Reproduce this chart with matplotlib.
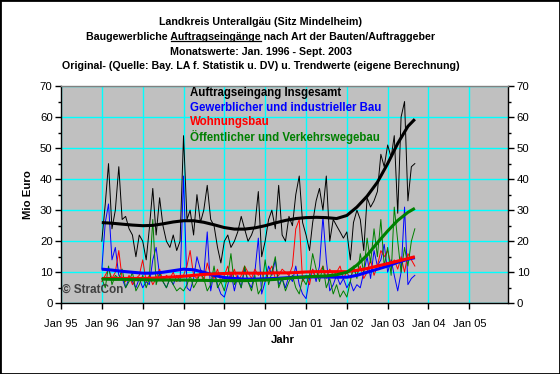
import numpy as np
import pandas as pd
import matplotlib
matplotlib.use("Agg")
import matplotlib.pyplot as plt
import matplotlib.dates as mdates
from matplotlib.lines import Line2D
from matplotlib.patches import Rectangle
from matplotlib.ticker import MultipleLocator

plt.rcParams['font.family'] = ['Liberation Sans', 'DejaVu Sans']

# Monatswerte Jan 1996 - Sep 2003 (Mio Euro)
months = pd.date_range('1996-01-01', periods=93, freq='MS')

total = [20, 32, 45, 24, 30, 44, 27, 28, 24, 22, 15, 22,
         20, 14, 24, 37, 22, 34, 25, 20, 18, 22, 17, 20,
         54, 27, 30, 22, 35, 26, 30, 38, 27, 25, 18, 13,
         20, 22, 18, 20, 23, 28, 24, 20, 22, 25, 36, 15,
         20, 27, 30, 24, 38, 22, 20, 28, 25, 35, 41, 26,
         22, 17, 26, 33, 37, 30, 41, 20, 27, 25, 23, 21,
         23, 14, 26, 30, 27, 17, 34, 31, 33, 36, 48, 44,
         51, 47, 54, 29, 60, 65, 33, 44, 45]

gewerbe = [11, 26, 32, 14, 18, 9, 8, 5, 8, 7, 5, 8,
           5, 7, 6, 14, 18, 9, 7, 5, 8, 6, 9, 7,
           41, 5, 4, 8, 15, 11, 9, 23, 4, 10, 6, 3,
           2, 6, 10, 4, 9, 5, 11, 7, 5, 10, 21, 3,
           7, 12, 9, 14, 6, 8, 5, 9, 7, 12, 6, 3,
           1.5, 8, 11, 7, 12, 28, 14, 4, 6, 9, 6, 8,
           5, 7, 4, 6, 5, 10, 15, 8, 17, 12, 14, 19,
           10, 14, 9, 4, 10, 31, 6, 8, 9]

wohnung = [7, 9, 11, 8, 10, 17, 8, 7, 9, 6, 8, 9,
           14, 7, 9, 6, 8, 11, 7, 9, 8, 10, 7, 9,
           9, 12, 17, 9, 8, 10, 7, 13, 9, 8, 11, 7,
           9, 12, 8, 11, 7, 9, 12, 10, 8, 11, 9, 10,
           7, 10, 12, 8, 9, 11, 10, 9, 12, 24, 27, 7,
           9, 6, 11, 8, 10, 12, 8, 11, 9, 10, 12, 8,
           10, 8, 11, 9, 12, 8, 10, 14, 9, 12, 17, 15,
           17, 12, 14, 11, 15, 10, 16, 14, 12]

oeffentlich = [8, 5, 12, 6, 9, 8, 11, 5, 7, 10, 4, 6,
               9, 5, 8, 27, 6, 10, 7, 5, 8, 6, 4, 5,
               4, 6, 9, 5, 7, 10, 8, 4, 6, 12, 5, 7,
               4, 9, 16, 6, 8, 5, 12, 7, 4, 9, 3, 5,
               14, 6, 10, 15, 5, 8, 4, 7, 9, 5, 3, 8,
               6, 9, 16, 11, 7, 12, 5, 8, 3, 6, 2, 4,
               2, 7, 12, 8, 16, 10, 21, 13, 24, 15, 27, 12,
               18, 9, 31, 20, 10, 18, 12, 20, 24]

trend_idx = [0, 3, 6, 9, 12, 15, 18, 21, 24, 27, 30, 33, 36, 39, 42, 45,
             48, 51, 54, 57, 60, 63, 66, 69, 72, 75, 78, 81, 84, 87, 90, 92]
trend_total = [26.0, 25.8, 25.5, 25.2, 25.0, 25.1, 25.6, 26.2, 26.6, 26.6, 26.1, 25.3,
               24.4, 23.9, 23.9, 24.3, 25.0, 25.9, 26.7, 27.3, 27.6, 27.7, 27.6, 27.3,
               28.3, 31.0, 34.5, 39.0, 45.0, 51.5, 57.0, 59.3]
trend_gewerbe = [11.0, 10.7, 10.3, 10.0, 9.7, 9.7, 10.0, 10.5, 11.0, 10.8, 10.0, 9.0,
                 8.3, 8.0, 7.8, 7.8, 7.9, 8.0, 8.2, 8.4, 8.5, 8.5, 8.5, 8.4,
                 8.4, 9.0, 10.0, 11.0, 12.0, 13.2, 14.2, 14.7]
trend_wohnung = [8.0, 8.0, 8.0, 8.0, 8.0, 8.1, 8.3, 8.5, 8.7, 9.0, 9.3, 9.5,
                 9.6, 9.7, 9.7, 9.7, 9.7, 9.8, 9.8, 9.9, 10.1, 10.2, 10.2, 10.2,
                 10.2, 10.6, 11.2, 12.0, 12.8, 13.6, 14.4, 15.0]
trend_oeffentlich = [7.8, 7.7, 7.7, 7.6, 7.6, 7.5, 7.5, 7.5, 7.5, 7.4, 7.4, 7.3,
                     7.3, 7.3, 7.3, 7.4, 7.5, 7.7, 8.0, 8.3, 8.5, 8.7, 8.8, 9.2,
                     10.0, 12.3, 15.5, 19.5, 23.3, 26.7, 29.3, 30.6]

labels = ['Auftragseingang Insgesamt', 'Gewerblicher und industrieller Bau',
          'Wohnungsbau', 'Öffentlicher und Verkehrswegebau']
colors = ['black', '#0000ff', '#ff0000', '#008000']

W, H = 560, 374
fig = plt.figure(figsize=(W / 100, H / 100), dpi=100)
fig.patch.set_facecolor('white')

def fx(px):
    return px / W

def fy(py):
    return 1 - py / H

ax = fig.add_axes([fx(61), fy(303.3), fx(508.3 - 61), (303.3 - 86) / H])
ax.set_facecolor('#c0c0c0')

raw = [total, gewerbe, wohnung, oeffentlich]
trends = [trend_total, trend_gewerbe, trend_wohnung, trend_oeffentlich]
tdates = months[trend_idx]
for series, c in zip(raw, colors):
    ax.plot(months, series, color=c, lw=0.7, zorder=3)
for series, c in zip(trends, colors):
    ax.plot(tdates, series, color=c, lw=2.2, zorder=4, solid_capstyle='butt')

ax.set_ylim(0, 70)
ax.set_xlim(pd.Timestamp('1995-01-01'), pd.Timestamp('2005-12-15'))
ax.yaxis.set_major_locator(MultipleLocator(10))
ax.yaxis.set_minor_locator(MultipleLocator(5))
ax.xaxis.set_major_locator(mdates.YearLocator())
ax.xaxis.set_major_formatter(mdates.DateFormatter('%b %y'))
ax.grid(True, which='major', color='#00ffff', lw=1, zorder=1)
ax.set_axisbelow(True)

ax.yaxis.set_ticks_position('both')
ax.tick_params(axis='y', which='both', direction='out', labelright=True,
               labelsize=8.2, pad=2, color='black')
ax.tick_params(axis='y', which='major', length=4, width=1)
ax.tick_params(axis='y', which='minor', length=2.5, width=1)
ax.tick_params(axis='x', which='major', direction='out', length=4, width=1,
               labelsize=8, pad=7)
for s in ['left', 'bottom', 'right']:
    ax.spines[s].set_color('black')
    ax.spines[s].set_linewidth(1)
ax.spines['top'].set_color('#808080')
ax.spines['top'].set_linewidth(1)

fig.text(fx(28), fy(195), 'Mio Euro', fontsize=8.2, fontweight='bold',
         rotation=90, ha='center', va='center')
fig.text(fx(283), fy(340), 'Jahr', fontsize=8.2, fontweight='bold',
         ha='center', va='center')

ax.text(0.003, 0.035, '© StratCon', transform=ax.transAxes, fontsize=8.5,
        fontweight='bold', color='#404040', ha='left', va='bottom', zorder=5)

# Legende als Text ohne Rahmen
for i, (lab, c) in enumerate(zip(labels, colors)):
    fig.text(fx(190), fy(93 + i * 14.7), lab, color=c, fontsize=8.3,
             fontweight='bold', ha='left', va='center')

# Titel
title_lines = ['Landkreis Unterallgäu (Sitz Mindelheim)',
               'Baugewerbliche Auftragseingänge nach Art der Bauten/Auftraggeber',
               'Monatswerte: Jan. 1996 - Sept. 2003',
               'Original- (Quelle: Bay. LA f. Statistik u. DV) u. Trendwerte (eigene Berechnung)']
title_size = 7.7
title_texts = []
for i, line in enumerate(title_lines):
    t = fig.text(0.466, fy(22 + i * 14.8), line, fontsize=title_size,
                 fontweight='bold', ha='center', va='center')
    title_texts.append(t)

# Unterstreichung von "Auftragseingänge"
fig.canvas.draw()
r = fig.canvas.get_renderer()
t2 = title_texts[1]
bb = t2.get_window_extent(r)
def width_of(s):
    tmp = fig.text(0, 0, s, fontsize=title_size, fontweight='bold')
    w = tmp.get_window_extent(r).width
    tmp.remove()
    return w
w_pre = width_of('Baugewerbliche Auftragseingänge')
w_word = width_of('Auftragseingänge')
x1 = bb.x0 + w_pre
x0 = x1 - w_word
yl = bb.y0 + 1
fig.add_artist(Line2D([x0 / W, x1 / W], [yl / H, yl / H], color='black', lw=0.9,
                      transform=fig.transFigure))

fig.add_artist(Rectangle((0, 0), 1, 1, transform=fig.transFigure, fill=False,
                         ec='black', lw=2))

fig.savefig('out.png', dpi=100)
